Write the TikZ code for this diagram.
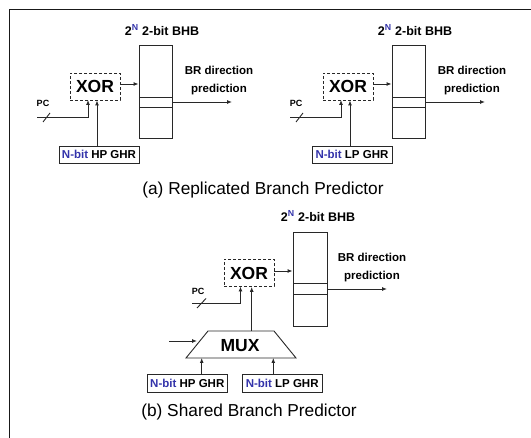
\documentclass[tikz,border=0pt]{standalone}
\usepackage{fontspec}
\setmainfont{Liberation Sans}
\usetikzlibrary{arrows.meta}
\definecolor{nblue}{RGB}{51,51,170}
\definecolor{ln}{RGB}{40,40,40}
\tikzset{
  x=1pt, y=-1pt,
  lbl/.style={font=\fontsize{11.5}{18}\selectfont\bfseries, align=center, inner sep=0pt},
  ttl/.style={font=\fontsize{12.5}{14}\selectfont\bfseries, inner sep=0pt},
  captxt/.style={font=\fontsize{17.3}{20}\selectfont, inner sep=0pt},
  pcl/.style={font=\fontsize{9}{10}\selectfont\bfseries, inner sep=0pt},
  bhb/.style={draw=ln, line width=0.9pt, minimum width=33pt, minimum height=93pt, inner sep=0pt},
  xorbox/.style={draw=ln, dashed, dash pattern=on 3pt off 2pt, line width=0.9pt, minimum width=50pt, minimum height=27pt, inner sep=0pt, font=\fontsize{17.5}{18}\selectfont\bfseries},
  ghr/.style={draw=ln, line width=0.9pt, minimum width=80pt, minimum height=17pt, inner sep=0pt, font=\fontsize{11.5}{12}\selectfont\bfseries},
  wire/.style={draw=ln, line width=0.9pt},
  arr/.style={wire, -{Latex[length=5pt,width=4pt]}},
}
\newcommand{\nb}{\textcolor{nblue}{N-bit}}
\newcommand{\bhbtitle}{2\textsuperscript{\textcolor{nblue}{N}} 2-bit BHB}
\begin{document}
\begin{tikzpicture}
\useasboundingbox (0,0) rectangle (531,438);
% frame
\draw[line width=1.8pt, draw=black!90] (9.5,440) -- (9.5,9.5) -- (533,9.5);

% ---------- (a) left ----------
\node[ttl] (tA) at (162,30) {\bhbtitle};
\node[bhb] (bhbA) at (155.5,91.5) {};
\draw[wire] (139,97) -- (172,97) (139,107) -- (172,107);
\node[xorbox] (xorA) at (95,86.5) {XOR};
\draw[arr] (xorA.east |- 0,84) -- (bhbA.west |- 0,84);
\node[pcl] (pcA) at (43,103) {PC};
\coordinate (pcsA) at (37,117);
\draw[arr] (pcsA) -- (88,117) -- (88,100);
\draw[wire] (43,122) -- (50,113);
\node[ghr] (ghrA) at (99,154.5) {\nb{} HP GHR};
\draw[arr] (ghrA.north -| 97,0) -- (xorA.south -| 97,0);
\node[lbl] (brA) at (219,81) {BR direction\\prediction};
\coordinate (oA) at (232,102);
\draw[arr] (bhbA.east |- oA) -- (oA);
\node[captxt] (capA) at (263,190) {(a) Replicated Branch Predictor};

% ---------- (a) right ----------
\node[ttl] (tB) at (415,30) {\bhbtitle};
\node[bhb] (bhbB) at (408.5,91.5) {};
\draw[wire] (392,97) -- (425,97) (392,107) -- (425,107);
\node[xorbox] (xorB) at (348,86.5) {XOR};
\draw[arr] (xorB.east |- 0,84) -- (bhbB.west |- 0,84);
\node[pcl] (pcB) at (296,103) {PC};
\coordinate (pcsB) at (290,117);
\draw[arr] (pcsB) -- (341,117) -- (341,100);
\draw[wire] (296,122) -- (303,113);
\node[ghr] (ghrB) at (352,154.5) {\nb{} LP GHR};
\draw[arr] (ghrB.north -| 350,0) -- (xorB.south -| 350,0);
\node[lbl] (brB) at (472,81) {BR direction\\prediction};
\coordinate (oB) at (485,102);
\draw[arr] (bhbB.east |- oB) -- (oB);

% ---------- (b) ----------
\node[ttl] (tC) at (318,216) {\bhbtitle};
\node[bhb, minimum width=34pt, minimum height=94pt] (bhbC) at (310,279) {};
\draw[wire] (293,283) -- (327,283) (293,294) -- (327,294);
\node[xorbox] (xorC) at (249,273) {XOR};
\draw[arr] (xorC.east |- 0,271) -- (bhbC.west |- 0,271);
\node[lbl] (brC) at (372,268) {BR direction\\prediction};
\coordinate (oC) at (387,289);
\draw[arr] (bhbC.east |- oC) -- (oC);
\node[pcl] (pcC) at (198,291) {PC};
\coordinate (pcsC) at (192,303);
\draw[arr] (pcsC) -- (240.5,303) -- (240.5,286.5);
\draw[wire] (197,308) -- (206,298.5);
% MUX
\draw[wire, line join=miter] (208,331) -- (274,331) -- (296,358) -- (186,358) -- cycle;
\node[font=\fontsize{17.5}{18}\selectfont\bfseries, inner sep=0pt] (mux) at (240,346) {MUX};
\coordinate (muxTop) at (251.7,331);
\draw[arr] (muxTop) -- (xorC.south -| muxTop);
\coordinate (sel) at (169,341);
\draw[arr] (sel) -- (197,341);
\node[ghr, minimum height=18pt] (ghrC1) at (187.3,383) {\nb{} HP GHR};
\node[ghr, minimum height=18pt] (ghrC2) at (282.2,383) {\nb{} LP GHR};
\draw[arr] (ghrC1.north -| 201.7,0) -- (201.7,358);
\draw[arr] (ghrC2.north -| 273.3,0) -- (273.3,358);
\node[captxt] (capC) at (249,412) {(b) Shared Branch Predictor};
\end{tikzpicture}
\end{document}
